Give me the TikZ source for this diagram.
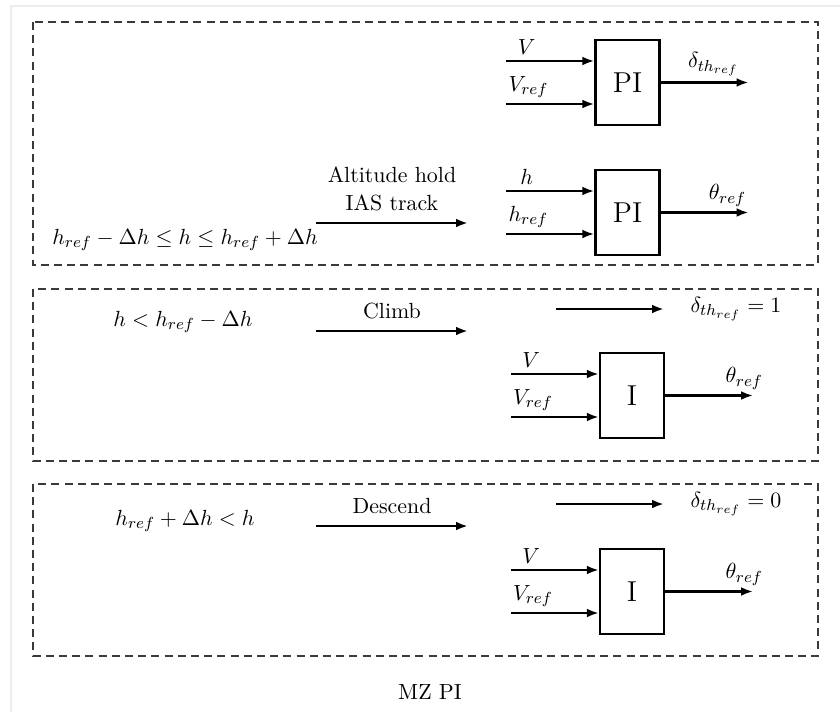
\documentclass[11pt,tikz,border=0pt]{standalone}
\usepackage{amsmath,amssymb}
\usepackage{xcolor}
\usepackage{tikz}
\usetikzlibrary{arrows.meta,positioning,calc}
\definecolor{frameGray}{HTML}{EDEDED}
\definecolor{dashGray}{HTML}{3A3A3A}

\begin{document}
\begin{tikzpicture}[
    x=0.5pt,y=-0.5pt,
    >={Latex[length=6pt,width=4.4pt]},
    every node/.style={font=\normalsize},
    modebox/.style={draw=dashGray,dash pattern=on 4pt off 2.6pt,line width=0.65pt},
    ctrl/.style={rectangle,draw,line width=1.1pt,
                 minimum width=32pt,minimum height=42.5pt,
                 inner sep=0pt,font=\Large},
    arr/.style={->,line width=1.2pt},
    lbl/.style={above,inner sep=2.5pt},
    modelbl/.style={above=2pt,align=center}
  ]
  \useasboundingbox (0,0) rectangle (840,712);
  \draw[frameGray,line width=1.2pt] (11,712) -- (11,6) -- (840,6);

  %% Mode frames
  \draw[modebox] (33,22) rectangle (818,265);
  \draw[modebox] (33,289) rectangle (818,461);
  \draw[modebox] (33,484) rectangle (818,656);

  %% Controllers
  \node[ctrl] (pi1) at (627.5,82.5) {PI};
  \node[ctrl] (pi2) at (627.5,212.5) {PI};
  \node[ctrl] (ii1) at (632,395.5) {I};
  \node[ctrl] (ii2) at (632,591.5) {I};

  \foreach \blk/\la/\lb in {pi1/V/V_{ref}, pi2/h/h_{ref}, ii1/V/V_{ref}, ii2/V/V_{ref}} {
    \coordinate (\blk-a) at ($(\blk.west)+(-88,-21.5)$);
    \coordinate (\blk-b) at ($(\blk.west)+(-88,21.5)$);
    \draw[arr] (\blk-a) -- (\blk-a -| \blk.west) node[lbl,pos=0.23] {$\la$};
    \draw[arr] (\blk-b) -- (\blk-b -| \blk.west) node[lbl,pos=0.25] {$\lb$};
    \coordinate (\blk-out) at ($(\blk.east)+(88,0)$);
  }
  \draw[arr] (pi1.east) -- (pi1-out) node[lbl,pos=0.6] {$\delta_{th_{ref}}$};
  \draw[arr] (pi2.east) -- (pi2-out) node[lbl,pos=0.76] {$\theta_{ref}$};
  \draw[arr] (ii1.east) -- (ii1-out) node[lbl,pos=0.9] {$\theta_{ref}$};
  \draw[arr] (ii2.east) -- (ii2-out) node[lbl,pos=0.9] {$\theta_{ref}$};

  %% Altitude hold
  \node (c1) at (185,240) {$h_{ref}-\Delta h \le h \le h_{ref}+\Delta h$};
  \coordinate (m1s) at (316,223);
  \coordinate (m1e) at (468,223);
  \draw[arr] (m1s) -- (m1e) node[modelbl,midway] {Altitude hold\\IAS track};

  %% Climb
  \node (c2) at (183,322) {$h<h_{ref}-\Delta h$};
  \coordinate (m2s) at (316,331);
  \coordinate (m2e) at (468,331);
  \draw[arr] (m2s) -- (m2e) node[modelbl,midway] {Climb};
  \coordinate (d2s) at (556,309);
  \coordinate (d2e) at (664,309);
  \draw[arr] (d2s) -- (d2e) node[right=9pt] {$\delta_{th_{ref}}=1$};

  %% Descend
  \node (c3) at (185,521) {$h_{ref}+\Delta h<h$};
  \coordinate (m3s) at (316,526);
  \coordinate (m3e) at (468,526);
  \draw[arr] (m3s) -- (m3e) node[modelbl,midway] {Descend};
  \coordinate (d3s) at (556,504);
  \coordinate (d3e) at (664,504);
  \draw[arr] (d3s) -- (d3e) node[right=9pt] {$\delta_{th_{ref}}=0$};

  \node (cap) at (430,692) {MZ PI};
\end{tikzpicture}
\end{document}
